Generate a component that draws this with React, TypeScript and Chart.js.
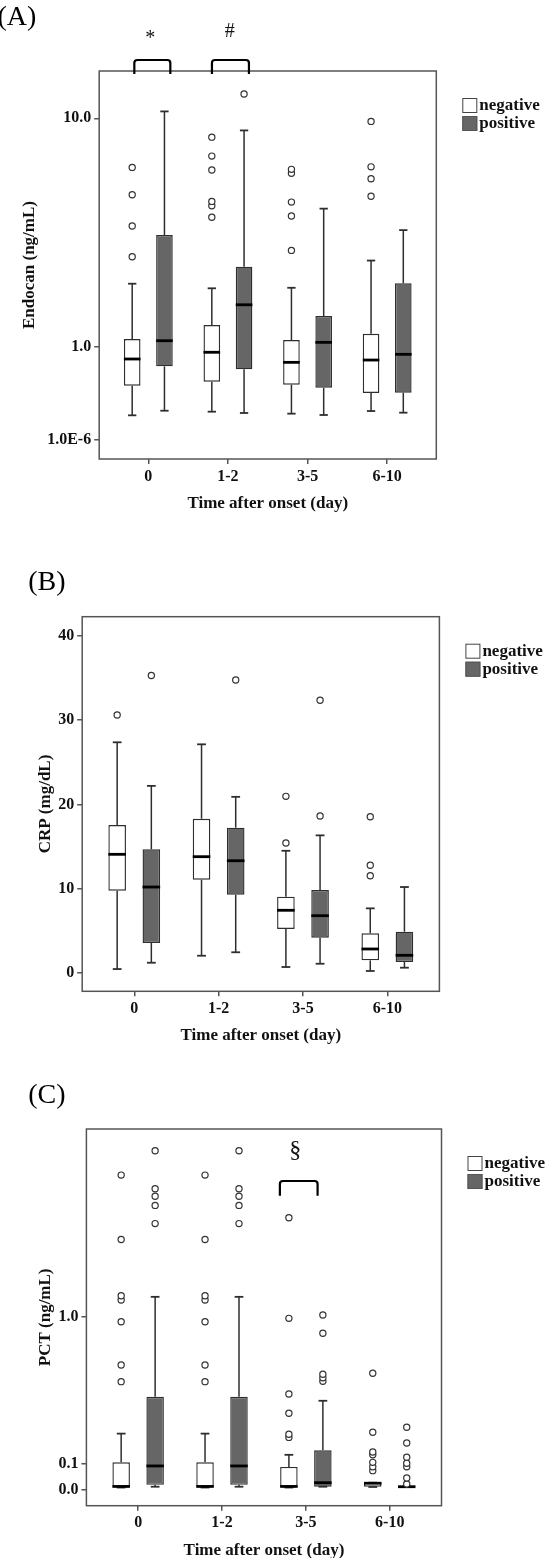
import React, { useEffect, useRef } from 'react';
import { Chart, registerables, LinearScale } from 'chart.js';

Chart.register(...registerables);

// Log scale of (value + shift), as used by the SPSS axes of panels A and C
class ShiftedLogScale extends LinearScale {
  static id = 'shiftedLog';
  static defaults = {};
  _t0 = 0;
  _t1 = 1;
  _lg(v: number) {
    return Math.log10(v + (this.options as any).shift);
  }
  buildTicks() {
    return (((this.options as any).tickValues as number[]) || []).map((v) => ({ value: v }));
  }
  configure() {
    super.configure();
    this._t0 = this._lg(this.min);
    this._t1 = this._lg(this.max);
  }
  getPixelForValue(v: number) {
    return this.getPixelForDecimal((this._lg(v) - this._t0) / (this._t1 - this._t0));
  }
  getValueForPixel(p: number) {
    const d = this.getDecimalForPixel(p);
    return Math.pow(10, this._t0 + d * (this._t1 - this._t0)) - (this.options as any).shift;
  }
}
Chart.register(ShiftedLogScale as any);

// ---------------- DATA ----------------
const categories = ['0', '1-2', '3-5', '6-10'];
const seriesNames = ['negative', 'positive'];
const xTitle = 'Time after onset (day)';

// each row: [whisker low, Q1, median, Q3, whisker high]
// (A) Endocan (ng/mL)
const endocanNegative = [
  [0.202, 0.499, 0.829, 1.123, 2.206],
  [0.235, 0.544, 0.923, 1.357, 2.098],
  [0.217, 0.51, 0.784, 1.107, 2.11],
  [0.241, 0.42, 0.815, 1.208, 2.81],
];
const endocanNegativeOutliers = [
  [2.92, 3.93, 5.22, 6.63],
  [4.26, 4.73, 4.92, 6.48, 7.3, 8.56],
  [3.11, 4.31, 4.89, 6.3, 6.52],
  [5.15, 6.01, 6.66, 9.75],
];
const endocanPositive = [
  [0.244, 0.732, 1.096, 3.61, 10.58],
  [0.223, 0.694, 1.74, 2.64, 9.05],
  [0.205, 0.476, 1.071, 1.519, 4.61],
  [0.226, 0.423, 0.894, 2.215, 3.78],
];
const endocanPositiveOutliers = [[], [12.18], [], []];
const endocanTicks = [0.000001, 1, 10];
const endocanTickLabels = ['1.0E-6', '1.0', '10.0'];

// (B) CRP (mg/dL)
const crpNegative = [
  [0.47, 9.76, 14.08, 17.56, 27.37],
  [2.05, 11.07, 13.8, 18.3, 27.13],
  [0.71, 5.22, 7.44, 9.05, 14.5],
  [0.24, 1.5, 2.85, 4.71, 7.67],
];
const crpNegativeOutliers = [[30.6], [], [15.42, 20.96], [11.54, 12.78, 18.54]];
const crpPositive = [
  [1.22, 3.56, 10.2, 14.67, 22.2],
  [2.46, 9.29, 13.32, 17.24, 20.9],
  [1.1, 4.19, 6.8, 9.85, 16.33],
  [0.63, 1.3, 2.1, 4.9, 10.2],
];
const crpPositiveOutliers = [[35.3], [34.76], [18.62, 32.35], []];
const crpTicks = [0, 10, 20, 30, 40];
const crpTickLabels = ['0', '10', '20', '30', '40'];

// (C) PCT (ng/mL)
const pctNegative = [
  [0.008, 0.01, 0.012, 0.107, 0.236],
  [0.008, 0.01, 0.012, 0.107, 0.236],
  [0.008, 0.01, 0.012, 0.088, 0.139],
  [0.01, 0.011, 0.024, 0.026, 0.026],
];
const pctNegativeOutliers = [
  [0.522, 0.63, 0.957, 1.15, 1.19, 1.81, 2.77],
  [0.522, 0.63, 0.957, 1.15, 1.19, 1.81, 2.77],
  [0.218, 0.233, 0.339, 0.447, 0.986, 2.1],
  [0.073, 0.089, 0.107, 0.139, 0.151, 0.2425, 0.575],
];
const pctPositive = [
  [0.011, 0.018, 0.092, 0.431, 1.18],
  [0.011, 0.018, 0.092, 0.431, 1.18],
  [0.011, 0.011, 0.026, 0.159, 0.408],
  [0.01, 0.01, 0.011, 0.012, 0.012],
];
const pctPositiveOutliers = [
  [2.02, 2.28, 2.42, 2.54, 3.22],
  [2.02, 2.28, 2.42, 2.54, 3.22],
  [0.524, 0.546, 0.569, 0.863, 1.015],
  [0.021, 0.044, 0.089, 0.103, 0.129, 0.1915, 0.267],
];
const pctTicks = [0, 0.1, 1];
const pctTickLabels = ['0.0', '0.1', '1.0'];

// ---------------- LAYOUT / STYLE ----------------
const FONT = "'Liberation Serif', 'Times New Roman', serif";
const W = 546;
const Y_AXIS_W = 60;
const X_AXIS_H = 40;
const INK = '#111111';
const EDGE = '#2e2e2e';
const FRAME = '#555555';
const FILLS = ['#ffffff', '#666666'];

const panels = [
  {
    key: 'A', letter: '(A)', letterX: -2.5, letterY: 25,
    canvasTop: 0, canvasHeight: 530,
    area: { left: 99.2, right: 436.3, top: 71, bottom: 459 },
    yTitle: 'Endocan (ng/mL)', yTitleX: 30,
    y: { type: 'shiftedLog', shift: 1, min: -0.132, max: 14.65, ticks: endocanTicks, labels: endocanTickLabels },
    neg: endocanNegative, negOut: endocanNegativeOutliers,
    pos: endocanPositive, posOut: endocanPositiveOutliers,
    brackets: [
      { cat: 0, text: '*', dx0: -14, dx1: 22, top: -11, bottom: 3, tdx: 2, tBase: -27, size: 20 },
      { cat: 1, text: '#', dx0: -16, dx1: 21, top: -11, bottom: 3, tdx: 1.7, tBase: -34.3, size: 20 },
    ],
  },
  {
    key: 'B', letter: '(B)', letterX: 28.3, letterY: 590,
    canvasTop: 530, canvasHeight: 530,
    area: { left: 82.2, right: 439.4, top: 616.7, bottom: 991.3 },
    yTitle: 'CRP (mg/dL)', yTitleX: 45.3,
    y: { type: 'linear', min: -2.17, max: 42.27, ticks: crpTicks, labels: crpTickLabels },
    neg: crpNegative, negOut: crpNegativeOutliers,
    pos: crpPositive, posOut: crpPositiveOutliers,
    brackets: [],
  },
  {
    key: 'C', letter: '(C)', letterX: 28.3, letterY: 1103.3,
    canvasTop: 1060, canvasHeight: 498,
    area: { left: 86.4, right: 441.5, top: 1129, bottom: 1505.7 },
    yTitle: 'PCT (ng/mL)', yTitleX: 45.3,
    y: { type: 'shiftedLog', shift: 0.735, min: -0.0561, max: 3.671, ticks: pctTicks, labels: pctTickLabels },
    neg: pctNegative, negOut: pctNegativeOutliers,
    pos: pctPositive, posOut: pctPositiveOutliers,
    brackets: [
      { cat: 2, text: '§', dx0: -26, dx1: 11.7, top: 52, bottom: 66.7, tdx: -10.7, tBase: 27.6, size: 24 },
    ],
  },
];

const decorPlugin = {
  id: 'boxDecor',
  afterDatasetsDraw(chart: any, _args: any, opts: any) {
    const spec = opts.spec;
    const { ctx, chartArea: ca } = chart;
    const xs = chart.scales.x;
    const ys = chart.scales.y;
    const line = (x1: number, y1: number, x2: number, y2: number) => {
      ctx.beginPath();
      ctx.moveTo(x1, y1);
      ctx.lineTo(x2, y2);
      ctx.stroke();
    };
    ctx.save();
    [spec.neg, spec.pos].forEach((stats: number[][], d: number) => {
      const meta = chart.getDatasetMeta(d);
      const outs = d === 0 ? spec.negOut : spec.posOut;
      stats.forEach((s: number[], j: number) => {
        const el = meta.data[j];
        const cx = el.x;
        const w = el.width;
        const [lo, q1, med, q3, hi] = s;
        const pLo = ys.getPixelForValue(lo);
        const pQ1 = ys.getPixelForValue(q1);
        const pMed = ys.getPixelForValue(med);
        const pQ3 = ys.getPixelForValue(q3);
        const pHi = ys.getPixelForValue(hi);
        ctx.strokeStyle = EDGE;
        ctx.lineWidth = 1.5;
        ctx.lineCap = 'butt';
        line(cx, pQ3, cx, pHi);
        line(cx, pQ1, cx, pLo);
        ctx.lineWidth = 1.8;
        line(cx - w * 0.25, pHi, cx + w * 0.25, pHi);
        line(cx - w * 0.25, pLo, cx + w * 0.25, pLo);
        ctx.strokeStyle = '#000';
        ctx.lineWidth = 2.8;
        line(cx - w / 2, pMed, cx + w / 2, pMed);
        ctx.lineWidth = 1.2;
        ctx.strokeStyle = '#333';
        ctx.fillStyle = '#fff';
        (outs[j] || []).forEach((v: number) => {
          ctx.beginPath();
          ctx.arc(cx, ys.getPixelForValue(v), 3.1, 0, Math.PI * 2);
          ctx.fill();
          ctx.stroke();
        });
      });
    });

    // frame
    ctx.strokeStyle = FRAME;
    ctx.lineWidth = 1.5;
    ctx.strokeRect(ca.left, ca.top, ca.right - ca.left, ca.bottom - ca.top);

    // significance brackets
    spec.brackets.forEach((b: any) => {
      const c = xs.getPixelForValue(b.cat);
      const x0 = c + b.dx0;
      const x1 = c + b.dx1;
      const t = ca.top + b.top;
      const bt = ca.top + b.bottom;
      const r = 3;
      ctx.strokeStyle = '#000';
      ctx.lineWidth = 2.2;
      ctx.beginPath();
      ctx.moveTo(x0, bt);
      ctx.lineTo(x0, t + r);
      ctx.arcTo(x0, t, x0 + r, t, r);
      ctx.lineTo(x1 - r, t);
      ctx.arcTo(x1, t, x1, t + r, r);
      ctx.lineTo(x1, bt);
      ctx.stroke();
      ctx.fillStyle = INK;
      ctx.font = `${b.size}px ${FONT}`;
      ctx.textAlign = 'center';
      ctx.textBaseline = 'alphabetic';
      ctx.fillText(b.text, c + b.tdx, ca.top + b.tBase);
    });

    // legend
    const lx = ca.right + 26;
    const ly = ca.top + 27;
    ctx.font = `bold 17px ${FONT}`;
    ctx.textAlign = 'left';
    ctx.textBaseline = 'middle';
    seriesNames.forEach((name, i) => {
      const sy = ly + i * 18;
      ctx.fillStyle = FILLS[i];
      ctx.fillRect(lx, sy, 15, 15);
      ctx.strokeStyle = i === 0 ? '#444' : '#555';
      ctx.lineWidth = 1;
      ctx.strokeRect(lx + 0.5, sy + 0.5, 14, 14);
      ctx.fillStyle = INK;
      ctx.fillText(name, lx + 17, sy + 8);
    });

    // axis titles
    ctx.fillStyle = INK;
    ctx.font = `bold 17px ${FONT}`;
    ctx.textAlign = 'center';
    ctx.textBaseline = 'middle';
    ctx.fillText(xTitle, (ca.left + ca.right) / 2, ca.bottom + 44.5);
    ctx.save();
    ctx.translate(spec.yTitleX, (ca.top + ca.bottom) / 2);
    ctx.rotate(-Math.PI / 2);
    ctx.fillText(spec.yTitle, 0, 0);
    ctx.restore();

    // panel letter
    ctx.font = `28px ${FONT}`;
    ctx.textAlign = 'left';
    ctx.textBaseline = 'alphabetic';
    ctx.fillStyle = '#000';
    ctx.fillText(spec.letter, spec.letterX, spec.letterY - spec.canvasTop);
    ctx.restore();
  },
};

function buildConfig(spec: any) {
  const tickFont = { family: FONT, size: 16, weight: 'bold' as const };
  const yOpts: any = {
    type: spec.y.type,
    min: spec.y.min,
    max: spec.y.max,
    bounds: 'data',
    offset: false,
    beginAtZero: false,
    grid: { offset: false, drawOnChartArea: false, drawTicks: true, tickLength: 5, color: FRAME, lineWidth: 1.5 },
    border: { display: false },
    ticks: {
      font: tickFont,
      color: INK,
      padding: 3,
      autoSkip: false,
      callback: (_v: number, i: number) => spec.y.labels[i],
    },
    afterFit: (s: any) => { s.width = Y_AXIS_W; },
  };
  if (spec.y.type === 'shiftedLog') {
    yOpts.shift = spec.y.shift;
    yOpts.tickValues = spec.y.ticks;
  } else {
    yOpts.afterBuildTicks = (s: any) => { s.ticks = spec.y.ticks.map((v: number) => ({ value: v })); };
  }
  const mk = (stats: number[][], i: number) => ({
    label: seriesNames[i],
    data: stats.map((s, k) => ({ x: k, y: [s[1], s[3]] })),
    backgroundColor: FILLS[i],
    borderColor: EDGE,
    borderWidth: 1.4,
    borderSkipped: false,
    categoryPercentage: 0.81,
    barPercentage: 0.515,
  });
  return {
    type: 'bar' as const,
    data: { datasets: [mk(spec.neg, 0), mk(spec.pos, 1)] },
    options: {
      responsive: false,
      animation: false as const,
      devicePixelRatio: 1,
      layout: {
        padding: {
          left: spec.area.left - Y_AXIS_W,
          right: W - spec.area.right,
          top: spec.area.top - spec.canvasTop,
          bottom: spec.canvasTop + spec.canvasHeight - spec.area.bottom - X_AXIS_H,
        },
      },
      scales: {
        x: {
          type: 'linear',
          min: -0.617,
          max: 3.617,
          bounds: 'data',
          offset: false,
          afterBuildTicks: (s: any) => { s.ticks = categories.map((_, i) => ({ value: i })); },
          grid: { offset: false, drawOnChartArea: false, drawTicks: true, tickLength: 5, color: FRAME, lineWidth: 1.5 },
          border: { display: false },
          ticks: {
            font: tickFont,
            color: INK,
            padding: 3,
            autoSkip: false,
            maxRotation: 0,
            callback: (v: number) => categories[Math.round(v)],
          },
          afterFit: (s: any) => { s.height = X_AXIS_H; },
        },
        y: yOpts,
      },
      plugins: {
        legend: { display: false },
        tooltip: { enabled: false },
        boxDecor: { spec },
      },
    },
    plugins: [decorPlugin],
  };
}

function Panel({ spec }: { spec: any }) {
  const ref = useRef<HTMLCanvasElement | null>(null);
  useEffect(() => {
    if (!ref.current) return;
    const chart = new Chart(ref.current, buildConfig(spec) as any);
    return () => chart.destroy();
  }, [spec]);
  return (
    <canvas
      ref={ref}
      width={W}
      height={spec.canvasHeight}
      style={{ position: 'absolute', left: 0, top: spec.canvasTop, width: W, height: spec.canvasHeight }}
    />
  );
}

export default function App() {
  return (
    <div style={{ position: 'absolute', left: 0, top: 0, width: W, height: 1558, background: '#fff' }}>
      {panels.map((p) => (
        <Panel key={p.key} spec={p} />
      ))}
    </div>
  );
}
